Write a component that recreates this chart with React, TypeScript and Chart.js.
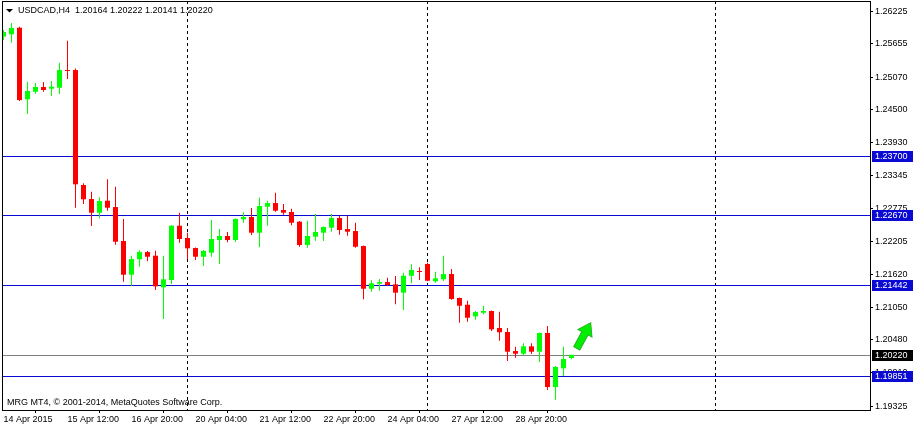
import React, { useEffect, useRef } from "react";
import { Chart, registerables } from "chart.js";

Chart.register(...registerables);

// ---------- data ----------
const symbolName = "USDCAD,H4";

const opens = [
  1.25780, 1.25818, 1.25933, 1.24683, 1.24815, 1.24898, 1.24868, 1.24885, 1.25194, 1.25194,
  1.23186, 1.22941, 1.22702, 1.22912, 1.22801, 1.22208, 1.21619, 1.21888, 1.22015, 1.21951,
  1.21399, 1.21526, 1.22475, 1.22260, 1.22085, 1.21933, 1.22003, 1.22225, 1.22295, 1.22225,
  1.22587, 1.22627, 1.22353, 1.22807, 1.22871, 1.22749, 1.22714, 1.22545, 1.22138, 1.22283,
  1.22353, 1.22440, 1.22609, 1.22417, 1.22382, 1.22120, 1.21374, 1.21462, 1.21491, 1.21451,
  1.21305, 1.21601, 1.21684, 1.21806, 1.21504, 1.21539, 1.21631, 1.21212, 1.21095, 1.20892,
  1.20955, 1.20985, 1.20688, 1.20618, 1.20286, 1.20239, 1.20368, 1.20274, 1.20601, 1.19657,
  1.19984, 1.20164,
];
const highs = [
  1.25893, 1.26015, 1.25951, 1.24990, 1.24967, 1.24985, 1.25002, 1.25322, 1.25706, 1.25221,
  1.23215, 1.23069, 1.22971, 1.23285, 1.23156, 1.22592, 1.21951, 1.22045, 1.22033, 1.22038,
  1.21951, 1.22487, 1.22702, 1.22353, 1.22094, 1.22050, 1.22574, 1.22417, 1.22365, 1.22601,
  1.22709, 1.22784, 1.22964, 1.22912, 1.23051, 1.22854, 1.22772, 1.22557, 1.22562, 1.22679,
  1.22461, 1.22679, 1.22650, 1.22650, 1.22527, 1.22129, 1.21521, 1.21544, 1.21566, 1.21596,
  1.21654, 1.21801, 1.21748, 1.21829, 1.21671, 1.21951, 1.21718, 1.21221, 1.21165, 1.20985,
  1.21077, 1.20994, 1.20973, 1.20688, 1.20361, 1.20421, 1.20421, 1.20609, 1.20723, 1.20024,
  1.20361, 1.20222,
];
const lows = [
  1.25718, 1.25671, 1.24653, 1.24426, 1.24781, 1.24815, 1.24740, 1.24775, 1.25037, 1.22789,
  1.22854, 1.22470, 1.22604, 1.22737, 1.22143, 1.21497, 1.21427, 1.21759, 1.21853, 1.21352,
  1.20845, 1.21457, 1.22178, 1.21893, 1.21876, 1.21771, 1.21933, 1.21806, 1.22185, 1.22190,
  1.22527, 1.22312, 1.22098, 1.22475, 1.22719, 1.22667, 1.22482, 1.22108, 1.22091, 1.22213,
  1.22208, 1.22370, 1.22318, 1.22300, 1.22091, 1.21189, 1.21322, 1.21339, 1.21421, 1.21102,
  1.21002, 1.21469, 1.21526, 1.21504, 1.21479, 1.21509, 1.21182, 1.20781, 1.20798, 1.20833,
  1.20927, 1.20636, 1.20466, 1.20112, 1.20169, 1.20211, 1.20234, 1.20094, 1.19605, 1.19436,
  1.19850, 1.20141,
];
const closes = [
  1.25858, 1.25928, 1.24670, 1.24828, 1.24898, 1.24845, 1.24903, 1.25194, 1.25177, 1.23198,
  1.22936, 1.22702, 1.22906, 1.22789, 1.22195, 1.21619, 1.21893, 1.22015, 1.21933, 1.21416,
  1.21539, 1.22475, 1.22243, 1.22080, 1.21933, 1.22033, 1.22243, 1.22295, 1.22225, 1.22592,
  1.22627, 1.22353, 1.22819, 1.22871, 1.22737, 1.22702, 1.22527, 1.22138, 1.22295, 1.22365,
  1.22452, 1.22609, 1.22400, 1.22370, 1.22108, 1.21374, 1.21469, 1.21491, 1.21439, 1.21305,
  1.21601, 1.21701, 1.21666, 1.21514, 1.21556, 1.21631, 1.21194, 1.21077, 1.20868, 1.20967,
  1.20985, 1.20665, 1.20613, 1.20274, 1.20239, 1.20368, 1.20274, 1.20601, 1.19657, 1.20007,
  1.20146, 1.20220,
];

const xTickIndex = [0, 8, 16, 24, 32, 40, 48, 56, 64];
const xTickLabels = [
  "14 Apr 2015", "15 Apr 12:00", "16 Apr 20:00", "20 Apr 04:00", "21 Apr 12:00",
  "22 Apr 20:00", "24 Apr 04:00", "27 Apr 12:00", "28 Apr 20:00",
];
const yTicks = [
  1.26225, 1.25655, 1.2507, 1.245, 1.2393, 1.23345, 1.22775, 1.22205, 1.2162, 1.2105,
  1.2048, 1.1991, 1.19325,
];
const levelLines = [1.237, 1.2267, 1.21442, 1.19851];
const bidPrice = 1.2022;
const weekSeparators = [23, 53, 89];
const arrowFrom = { x: 71.65, y: 1.20333 };
const arrowTo = { x: 73.4, y: 1.20781 };
const copyrightText = "MRG MT4, \u00A9 2001-2014, MetaQuotes Software Corp.";

const Y_MIN = 1.19256;
const Y_MAX = 1.264;
const X_MIN = -0.1875;
const X_MAX = 108.3125;

// ---------- styles ----------
const FONT = "'Liberation Sans', Arial, sans-serif";
const FS = 9;
const BULL = "#00ff00";
const BEAR = "#ff0000";
const LEVEL_COLOR = "#0a0ad2";
const BID_COLOR = "#808080";

const fmt = (v: number) => v.toFixed(5);

const mt4Plugin = {
  id: "mt4",
  beforeDatasetsDraw(chart: any) {
    const { ctx, chartArea: a, scales } = chart;
    const x = scales.x;
    const y = scales.y;
    ctx.save();
    ctx.beginPath();
    ctx.rect(a.left, a.top, a.right - a.left, a.bottom - a.top);
    ctx.clip();
    // week separators
    ctx.strokeStyle = "#000";
    ctx.lineWidth = 1;
    ctx.setLineDash([3, 3]);
    weekSeparators.forEach((i) => {
      const px = x.getPixelForValue(i);
      ctx.beginPath();
      ctx.moveTo(px, a.top);
      ctx.lineTo(px, a.bottom);
      ctx.stroke();
    });
    ctx.setLineDash([]);
    // horizontal levels
    levelLines.forEach((v) => {
      const py = Math.round(y.getPixelForValue(v));
      ctx.fillStyle = LEVEL_COLOR;
      ctx.fillRect(a.left, py, a.right - a.left, 1);
    });
    const by = Math.round(y.getPixelForValue(bidPrice));
    ctx.fillStyle = BID_COLOR;
    ctx.fillRect(a.left, by, a.right - a.left, 1);
    ctx.restore();
  },
  afterDraw(chart: any) {
    const { ctx, chartArea: a, scales, width } = chart;
    const x = scales.x;
    const y = scales.y;
    ctx.save();
    // frame
    ctx.strokeStyle = "#000";
    ctx.lineWidth = 1;
    ctx.strokeRect(a.left + 0.5, a.top + 0.5, a.right - a.left, a.bottom - a.top);

    // arrow
    const tx = x.getPixelForValue(arrowFrom.x);
    const ty = y.getPixelForValue(arrowFrom.y);
    const hx = x.getPixelForValue(arrowTo.x);
    const hy = y.getPixelForValue(arrowTo.y);
    const ang = Math.atan2(hy - ty, hx - tx);
    const len = Math.hypot(hx - tx, hy - ty);
    ctx.save();
    ctx.translate(tx, ty);
    ctx.rotate(ang);
    ctx.beginPath();
    ctx.moveTo(0, -3.5);
    ctx.lineTo(len - 12, -3.5);
    ctx.lineTo(len - 12, -8);
    ctx.lineTo(len, 0);
    ctx.lineTo(len - 12, 8);
    ctx.lineTo(len - 12, 3.5);
    ctx.lineTo(0, 3.5);
    ctx.closePath();
    ctx.fillStyle = "#00ee00";
    ctx.fill();
    ctx.strokeStyle = "#22b522";
    ctx.stroke();
    ctx.restore();

    // price label boxes
    ctx.font = `${FS}px ${FONT}`;
    ctx.textBaseline = "middle";
    ctx.textAlign = "left";
    const drawBox = (v: number, bg: string) => {
      const py = Math.round(y.getPixelForValue(v));
      ctx.fillStyle = bg;
      ctx.fillRect(a.right + 2, py - 5, width - a.right - 2, 11);
      ctx.fillStyle = "#fff";
      ctx.fillText(fmt(v), a.right + 5, py + 0.5);
    };
    levelLines.forEach((v) => drawBox(v, LEVEL_COLOR));
    drawBox(bidPrice, "#000");

    // title
    const last = opens.length - 1;
    ctx.fillStyle = "#000";
    ctx.beginPath();
    ctx.moveTo(6, 9);
    ctx.lineTo(13, 9);
    ctx.lineTo(9.5, 12.5);
    ctx.closePath();
    ctx.fill();
    ctx.textBaseline = "middle";
    ctx.fillText(
      `${symbolName}  ${fmt(opens[last])} ${fmt(highs[last])} ${fmt(lows[last])} ${fmt(closes[last])}`,
      18,
      11
    );
    // copyright
    ctx.fillText(copyrightText, 7, 403);
    ctx.restore();
  },
};

export default function App() {
  const ref = useRef<HTMLCanvasElement>(null);
  useEffect(() => {
    document.body.style.margin = "0";
    const idx = opens.map((_, i) => i);
    const colors = opens.map((o, i) => (closes[i] >= o ? BULL : BEAR));
    const chart = new Chart(ref.current as HTMLCanvasElement, {
      type: "bar",
      data: {
        datasets: [
          {
            label: "body",
            data: idx.map((i) => ({ x: i, y: [opens[i], closes[i]] })) as any,
            backgroundColor: colors,
            borderWidth: 0,
            barThickness: 5,
            minBarLength: 1,
            grouped: false,
            inflateAmount: 0,
            clip: 0,
          } as any,
          {
            label: "wick",
            data: idx.map((i) => ({ x: i, y: [lows[i], highs[i]] })) as any,
            backgroundColor: colors,
            borderWidth: 0,
            barThickness: 1,
            minBarLength: 1,
            grouped: false,
            inflateAmount: 0,
            clip: 0,
          } as any,
        ],
      },
      options: {
        animation: false,
        responsive: false,
        devicePixelRatio: 1,
        layout: { padding: { left: 2, top: 1, right: 0, bottom: 0 } },
        plugins: { legend: { display: false }, tooltip: { enabled: false } },
        font: { family: FONT, size: FS },
        scales: {
          x: {
            type: "linear",
            min: X_MIN,
            max: X_MAX,
            offset: false,
            afterBuildTicks: (s: any) => {
              s.ticks = xTickIndex.map((v) => ({ value: v }));
            },
            afterFit: (s: any) => {
              s.height = 18;
              s.paddingLeft = 0;
              s.paddingRight = 0;
            },
            ticks: {
              autoSkip: false,
              maxRotation: 0,
              minRotation: 0,
              align: "start",
              padding: 1,
              color: "#000",
              font: { family: FONT, size: FS },
              callback: (_v: any, i: number) => xTickLabels[i],
            },
            grid: { drawOnChartArea: false, drawTicks: true, tickLength: 3, color: "#000" },
            border: { display: false },
          },
          y: {
            type: "linear",
            position: "right",
            min: Y_MIN,
            max: Y_MAX,
            afterBuildTicks: (s: any) => {
              s.ticks = yTicks.map((v) => ({ value: v }));
            },
            afterFit: (s: any) => {
              s.width = 43;
              s.paddingTop = 0;
              s.paddingBottom = 0;
            },
            ticks: {
              autoSkip: false,
              padding: 2,
              color: "#000",
              font: { family: FONT, size: FS },
              callback: (v: any) => fmt(Number(v)),
            },
            grid: { drawOnChartArea: false, drawTicks: true, tickLength: 3, color: "#000" },
            border: { display: false },
          },
        },
      } as any,
      plugins: [mt4Plugin],
    });
    return () => chart.destroy();
  }, []);
  return (
    <div style={{ width: 913, height: 428, background: "#fff" }}>
      <canvas ref={ref} width={913} height={428} style={{ display: "block" }} />
    </div>
  );
}
